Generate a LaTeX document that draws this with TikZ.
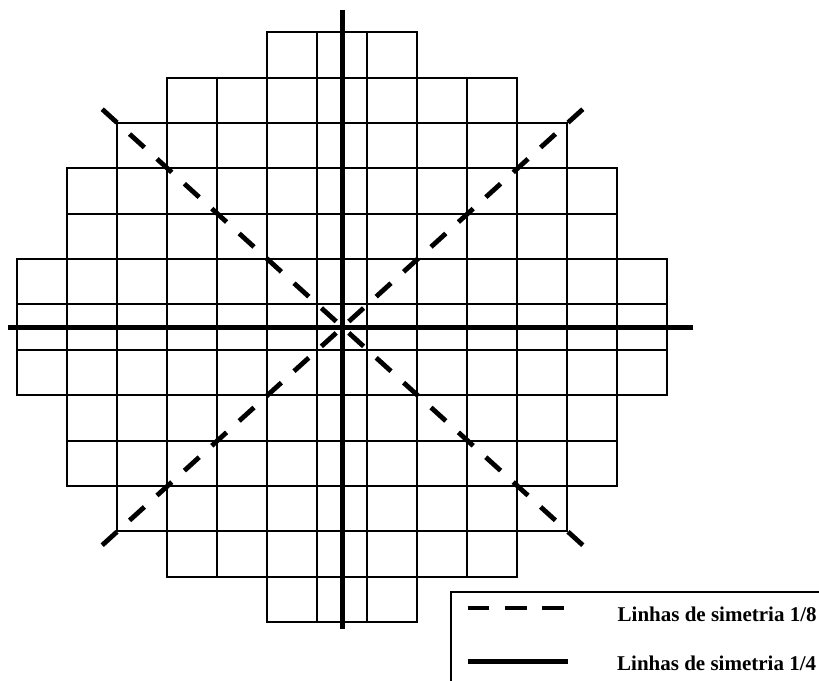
\documentclass[tikz,border=0pt]{standalone}
\usepackage{fontspec}
\setmainfont{Liberation Serif}
\begin{document}
\begin{tikzpicture}[x=1pt,y=-1pt,
  cell/.style={draw=black,line width=1.6pt},
  symsolid/.style={draw=black,line width=5pt},
  symdash/.style={draw=black,line width=4.8pt,dash pattern=on 20pt off 17pt,dash phase=28.5pt},
  legdash/.style={draw=black,line width=4.8pt,dash pattern=on 21.6pt off 15.7pt},
  legbox/.style={draw=black,line width=2pt},
  legtext/.style={font=\bfseries\fontsize{21}{25}\selectfont,inner sep=0pt,anchor=base west}]
\useasboundingbox (0,0) rectangle (819,680);
\clip (0,0) rectangle (819,680);
% core grid
\foreach \r/\a/\b in {0/5/7,1/3/9,2/2/10,3/1/11,4/1/11,5/0/12,6/0/12,7/0/12,8/1/11,9/1/11,10/2/10,11/3/9,12/5/7}{
  \pgfmathsetmacro{\ytop}{round(32.3+45.36*\r)}
  \pgfmathsetmacro{\ybot}{round(32.3+45.36*(\r+1))}
  \foreach \c in {\a,...,\b}{
    \draw[cell] ({17+50*\c},\ytop) rectangle ({67+50*\c},\ybot);
  }
}
% symmetry coordinates
\coordinate (C) at (342.5,327.2);
\coordinate (T) at (342.5,10);
\coordinate (B) at (342.5,629);
\coordinate (L) at (8.3,327.2);
\coordinate (R) at (692.7,327.2);
\coordinate (DTL) at (102.2,109.2);
\coordinate (DTR) at (582.8,109.2);
\coordinate (DBL) at (102.2,545.2);
\coordinate (DBR) at (582.8,545.2);
% 1/4 symmetry lines
\draw[symsolid] (T) -- (B);
\draw[symsolid] (L) -- (R);
% 1/8 symmetry lines
\draw[symdash] (C) -- (DTL);
\draw[symdash] (C) -- (DTR);
\draw[symdash] (C) -- (DBL);
\draw[symdash] (C) -- (DBR);
% legend
\coordinate (LB1) at (451,700);
\coordinate (LB2) at (451,592.3);
\coordinate (LB3) at (840,592.3);
\draw[legbox] (LB1) -- (LB2) -- (LB3);
\coordinate (LD1) at (467.7,608);
\coordinate (LD2) at (564.3,608);
\coordinate (LS1) at (467.7,661.3);
\coordinate (LS2) at (567.7,661.3);
\draw[legdash] (LD1) -- (LD2);
\draw[symsolid] (LS1) -- (LS2);
\node[legtext] (t8) at (617.5,621) {Linhas de simetria 1/8};
\node[legtext] (t4) at (617,670) {Linhas de simetria 1/4};
\end{tikzpicture}
\end{document}
